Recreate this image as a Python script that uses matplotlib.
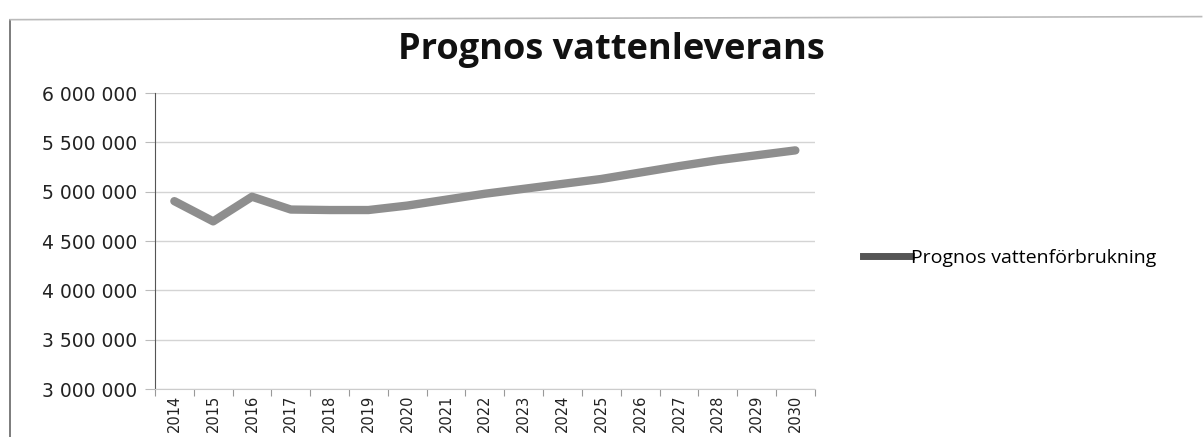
import numpy as np
import matplotlib
matplotlib.use("Agg")
import matplotlib.pyplot as plt
from matplotlib.lines import Line2D

# data
years = [str(y) for y in range(2014, 2031)]
leverans = [4905000, 4700000, 4950000, 4820000, 4815000, 4815000, 4860000,
            4920000, 4980000, 5030000, 5080000, 5130000, 5195000, 5260000,
            5320000, 5370000, 5420000]
y_ticks = [3000000, 3500000, 4000000, 4500000, 5000000, 5500000, 6000000]
serie_namn = "Prognos vattenförbrukning"
titel = "Prognos vattenleverans"

fig = plt.figure(figsize=(12.04, 4.37), dpi=100)
ax = fig.add_axes([0.1287, 0.1098, 0.548, 0.677])

x = np.arange(len(years))
ax.plot(x, leverans, color="#8e8e8e", lw=6, solid_capstyle="round",
        solid_joinstyle="round")

ax.set_xlim(-0.5, len(years) - 0.5)
ax.set_ylim(3000000, 6000000)
ax.set_yticks(y_ticks)
ax.set_yticklabels([f"{v:,}".replace(",", " ") for v in y_ticks],
                   fontsize=13.5, color="#222222", family="DejaVu Sans")
ax.yaxis.grid(True, color="#d4d4d4", lw=1)
ax.set_axisbelow(True)

# tick marks between categories, labels centred
ax.set_xticks(np.arange(-0.5, len(years), 1.0))
ax.set_xticklabels([])
ax.set_xticks(x, minor=True)
ax.set_xticklabels(years, minor=True, rotation=90, fontsize=10.5,
                   family=["DejaVu Sans Condensed", "DejaVu Sans"],
                   color="#222222")
ax.tick_params(axis="x", which="major", length=5, color="#999999",
               direction="out")
ax.tick_params(axis="x", which="minor", length=0, pad=4)
ax.tick_params(axis="y", length=7, color="#bbbbbb", pad=6)

for s in ["top", "right"]:
    ax.spines[s].set_visible(False)
ax.spines["left"].set_color("#555555")
ax.spines["bottom"].set_color("#cccccc")

fig.text(0.508, 0.886, titel, ha="center", va="center", fontsize=26,
         fontweight="bold", family="Open Sans", color="#111111")

handle = Line2D([], [], color="#555555", lw=5)
fig.legend([handle], [serie_namn], loc="center left",
           bbox_to_anchor=(0.702, 0.41), frameon=False,
           handlelength=2.5, handletextpad=0.0,
           prop={"family": "Open Sans", "size": 14})

# outer frame of the scanned chart
fig.add_artist(Line2D([0.0085, 0.0085], [0.0, 0.955], color="#666666",
                      lw=1.2, transform=fig.transFigure))
fig.add_artist(Line2D([0.0085, 0.998], [0.955, 0.962], color="#bbbbbb",
                      lw=1.2, transform=fig.transFigure))

fig.savefig("out.png", dpi=100)
